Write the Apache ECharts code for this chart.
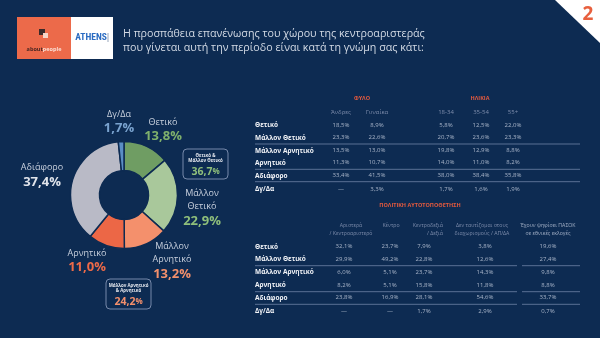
<!DOCTYPE html>
<html>
<head>
<meta charset="utf-8">
<script src="https://cdn.jsdelivr.net/npm/echarts@6/dist/echarts.min.js"></script>
<style>
  html, body { margin: 0; padding: 0; background: #0d2b52; }
  #chart { width: 600px; height: 338px; }
</style>
</head>
<body>
<div id="chart"></div>
<script>
// Donut: overall answers
const sliceNames = ['Θετικό', 'Μάλλον Θετικό', 'Μάλλον Αρνητικό', 'Αρνητικό', 'Αδιάφορο', 'Δγ/Δα'];
const sliceValues = [13.8, 22.9, 13.2, 11.0, 37.4, 1.7];

// Breakdown tables (null = no answer recorded)
const rowNames = ['Θετικό', 'Μάλλον Θετικό', 'Μάλλον Αρνητικό', 'Αρνητικό', 'Αδιάφορο', 'Δγ/Δα'];
const genderColumns = ['Άνδρες', 'Γυναίκα'];
const ageColumns = ['18-34', '35-54', '55+'];
const men = [18.5, 23.3, 13.5, 11.3, 33.4, null];
const women = [8.9, 22.6, 13.0, 10.7, 41.5, 3.3];
const age1834 = [5.8, 20.7, 19.8, 14.0, 38.0, 1.7];
const age3554 = [12.5, 23.6, 12.9, 11.0, 38.4, 1.6];
const age55plus = [22.0, 23.3, 8.8, 8.2, 35.8, 1.9];

const selfColumns = [
  ['Αριστερά', '/ Κεντροαριστερό'],
  ['Κέντρο'],
  ['Κεντροδεξιά', '/ Δεξιά'],
  ['Δεν ταυτίζομαι στους', 'διαχωρισμούς / ΑΠ/ΔΑ'],
  ['Έχουν ψηφίσει ΠΑΣΟΚ', 'σε εθνικές εκλογές']
];
const selfLeft = [32.1, 29.9, 6.0, 8.2, 23.8, null];
const selfCentre = [23.7, 49.2, 5.1, 5.1, 16.9, null];
const selfCentreRight = [7.9, 22.8, 23.7, 15.8, 28.1, 1.7];
const selfNone = [3.8, 12.6, 14.3, 11.8, 54.6, 2.9];
const pasokVoters = [19.6, 27.4, 9.8, 8.8, 33.7, 0.7];

const titleLines = [
  'Η προσπάθεια επανένωσης του χώρου της κεντροαριστεράς',
  'που γίνεται αυτή την περίοδο είναι κατά τη γνώμη σας κάτι:'
];

// ---- styling / layout ----
const BG = '#0d2b52';
const FONT = '"Open Sans", Roboto, sans-serif';
const sliceColors = ['#6f9d63', '#a9c89b', '#f4906c', '#ec6746', '#b9bac6', '#5b8ec4'];
const valueColors = ['#7fb06c', '#8fbf7b', '#f4906c', '#ee6a48', '#dfe3ea', '#7aa3cf'];
const labelSpots = [[163, 130], [202, 208], [172, 261], [87, 261], [42, 175.5], [119, 122]];

const fmt = v => (v == null ? '—' : v.toFixed(1).replace('.', ',') + '%');

const graphics = [];
function txt(x, y, text, opt) {
  graphics.push({
    type: 'text', x: x, y: y, silent: true,
    style: Object.assign({
      text: text, fill: '#c9d1de', fontFamily: FONT, fontSize: 7,
      textAlign: 'center', textVerticalAlign: 'middle'
    }, opt || {})
  });
}
function hline(x1, x2, y) {
  graphics.push({
    type: 'line', silent: true,
    shape: { x1: x1, y1: y, x2: x2, y2: y },
    style: { stroke: '#6e83a6', lineWidth: 0.8 }
  });
}

// corner page marker
graphics.push({ type: 'polygon', silent: true, shape: { points: [[555, 0], [600, 0], [600, 43]] }, style: { fill: '#ffffff' } });
txt(588, 15, '2', { fill: '#e8603e', fontSize: 19, fontWeight: 'bold' });

// logo
graphics.push({ type: 'rect', silent: true, shape: { x: 17, y: 17, width: 54, height: 42 }, style: { fill: '#ec6a4a' } });
graphics.push({ type: 'rect', silent: true, shape: { x: 71, y: 17, width: 42, height: 42 }, style: { fill: '#ffffff' } });
graphics.push({ type: 'rect', silent: true, shape: { x: 39, y: 29, width: 6, height: 6 }, style: { fill: '#3a2a2a' } });
graphics.push({ type: 'rect', silent: true, shape: { x: 43, y: 33, width: 5, height: 5 }, style: { fill: '#f6d5c8' } });
graphics.push({
  type: 'text', silent: true, x: 44, y: 49,
  style: {
    text: '{a|about}{b|people}', textAlign: 'center', textVerticalAlign: 'middle',
    rich: {
      a: { fill: '#4a2622', fontSize: 5.5, fontWeight: 'bold', fontFamily: FONT },
      b: { fill: '#fbe0d6', fontSize: 5.5, fontWeight: 'bold', fontFamily: FONT }
    }
  }
});
txt(91, 38, 'ATHENS', { fill: '#2b6cc2', fontSize: 9.5, fontWeight: 'bold', fontFamily: '"Liberation Sans Narrow", "Roboto Condensed", Roboto, sans-serif' });
graphics.push({ type: 'rect', silent: true, shape: { x: 107.5, y: 33, width: 1, height: 9 }, style: { fill: '#9aa8bc' } });

// heading
titleLines.forEach((t, i) => txt(123, 34 + i * 14, t, { textAlign: 'left', fontSize: 10.7, fill: '#d3dae5' }));

// donut summary boxes
function summaryBox(x, y, w, h, lines, value, color) {
  graphics.push({
    type: 'rect', silent: true,
    shape: { x: x, y: y, width: w, height: h, r: 4 },
    style: { fill: 'none', stroke: '#7689aa', lineWidth: 1 }
  });
  const cx = x + w / 2;
  lines.forEach((l, i) => txt(cx, y + 7 + i * 5, l, { fontSize: 4.4, fontWeight: 'bold', fill: '#e6e9ef' }));
  graphics.push({
    type: 'text', silent: true, x: cx, y: y + h - 7,
    style: {
      text: '{v|' + value.toFixed(1).replace('.', ',') + '}{p|%}',
      textAlign: 'center', textVerticalAlign: 'middle',
      rich: {
        v: { fill: color, fontSize: 10.5, fontWeight: 'bold', fontFamily: FONT },
        p: { fill: color, fontSize: 8, fontWeight: 'bold', fontFamily: FONT }
      }
    }
  });
}
summaryBox(183, 149, 45, 30, ['Θετικό &', 'Μάλλον Θετικό'], sliceValues[0] + sliceValues[1], '#8fbf7b');
summaryBox(106, 279, 45, 30, ['Μάλλον Αρνητικό', '& Αρνητικό'], sliceValues[2] + sliceValues[3], '#f4906c');

// ---- upper table: gender & age ----
const headColor = '#7d8cab';
const sectionColor = '#e45a3e';
const valColor = '#a9b5c9';
const rowLabelX = 255;

txt(362, 98.5, 'ΦΥΛΟ', { fontSize: 5.5, fontWeight: 'bold', fill: sectionColor });
txt(480, 98.5, 'ΗΛΙΚΙΑ', { fontSize: 5.5, fontWeight: 'bold', fill: sectionColor });
const topCols = [men, women, age1834, age3554, age55plus];
const topHeads = genderColumns.concat(ageColumns);
const topX = [341, 377, 446, 481, 513];
const topRowY = [125, 137.7, 150.7, 162.7, 175.7, 189];
topHeads.forEach((h, c) => txt(topX[c], 112, h, { fontSize: 6, fill: headColor }));
rowNames.forEach((r, i) => {
  txt(rowLabelX, topRowY[i], r, { textAlign: 'left', fontSize: 6.5, fontWeight: 'bold', fill: '#f2f4f8' });
  topCols.forEach((col, c) => txt(topX[c], topRowY[i], fmt(col[i]), { fontSize: 6, fill: valColor }));
});
[144, 169.3, 181.7].forEach(y => hline(255, 580, y));

// ---- lower table: political self-placement ----
txt(420, 205, 'ΠΟΛΙΤΙΚΗ ΑΥΤΟΤΟΠΟΘΕΤΗΣΗ', { fontSize: 5.5, fontWeight: 'bold', fill: sectionColor });
const selfCols = [selfLeft, selfCentre, selfCentreRight, selfNone, pasokVoters];
const selfHeadX = [351, 391, 443, 482, 548];
const selfHeadAlign = ['center', 'center', 'right', 'center', 'center'];
const selfX = [344, 390, 424, 485, 548];
const selfRowY = [246.7, 259.3, 272.3, 285, 297.7, 311];
selfColumns.forEach((lines, c) => lines.forEach((l, k) =>
  txt(selfHeadX[c], 225.5 + k * 8.2, l, { fontSize: 5.2, textAlign: selfHeadAlign[c], fill: c === 4 ? '#a3b0c6' : headColor })
));
rowNames.forEach((r, i) => {
  txt(rowLabelX, selfRowY[i], r, { textAlign: 'left', fontSize: 6.5, fontWeight: 'bold', fill: '#f2f4f8' });
  selfCols.forEach((col, c) => txt(selfX[c], selfRowY[i], fmt(col[i]), { fontSize: 6, fill: valColor }));
});
[265.7, 291.7, 304.3].forEach(y => { hline(255, 517, y); hline(522, 580, y); });

const chart = echarts.init(document.getElementById('chart'), null, { renderer: 'canvas' });
chart.setOption({
  backgroundColor: BG,
  animation: false,
  series: [{
    type: 'pie',
    center: [124, 195],
    radius: [24.5, 53.5],
    startAngle: 90,
    clockwise: true,
    avoidLabelOverlap: false,
    itemStyle: { borderColor: BG, borderWidth: 1.5 },
    label: {
      show: true,
      position: 'outside',
      fontFamily: FONT,
      formatter: p => {
        const nameLines = p.name.replace('Μάλλον ', 'Μάλλον\n').split('\n').map(s => '{n|' + s + '}');
        return nameLines.join('\n') + '\n{v|' + fmt(p.value) + '}';
      },
      rich: {
        n: { color: '#c9d1de', fontSize: 9, lineHeight: 13, fontFamily: FONT },
        v: { fontSize: 13, fontWeight: 'bold', lineHeight: 16, fontFamily: FONT }
      }
    },
    labelLine: { show: false },
    labelLayout: p => {
      const s = labelSpots[p.dataIndex];
      return { x: s[0], y: s[1], align: 'center', verticalAlign: 'middle' };
    },
    emphasis: { disabled: true },
    data: sliceNames.map((n, i) => ({
      name: n,
      value: sliceValues[i],
      itemStyle: { color: sliceColors[i] },
      label: { color: valueColors[i] }
    }))
  }],
  graphic: graphics
});
</script>
</body>
</html>
